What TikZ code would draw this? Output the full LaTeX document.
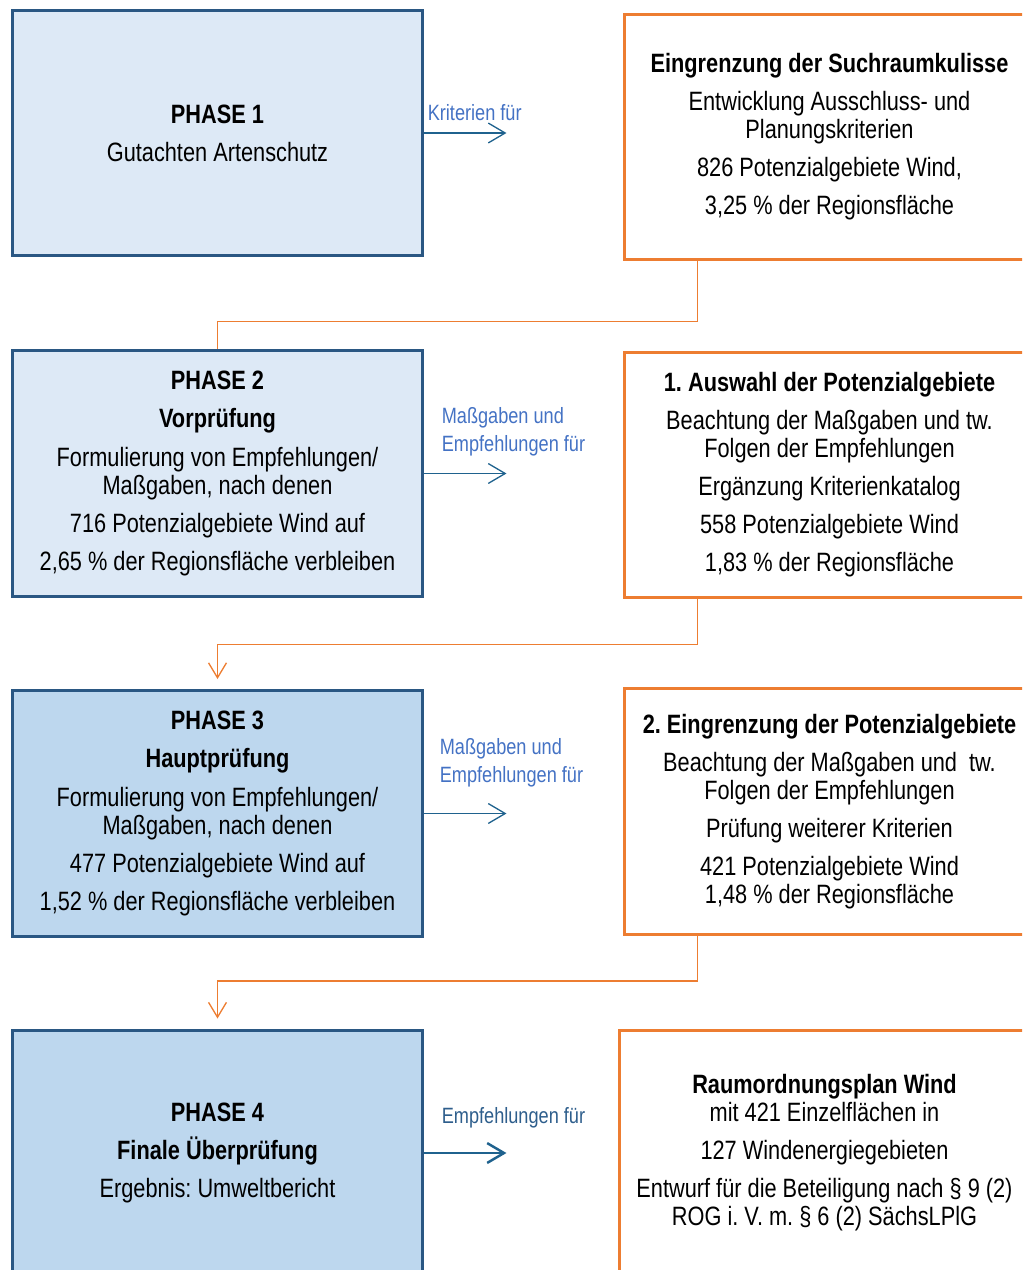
\documentclass[tikz,border=0pt]{standalone}
\usepackage{fontspec}
\setmainfont{Liberation Sans}[FakeStretch=0.82]
\usepackage{xcolor}
\usetikzlibrary{arrows.meta, positioning, calc}
\definecolor{phaselight}{HTML}{DDE9F6}
\definecolor{phasedark}{HTML}{BDD7EE}
\definecolor{phaseline}{HTML}{2A5783}
\definecolor{stepline}{HTML}{ED7D31}
\definecolor{flowline}{HTML}{1F628E}
\definecolor{taglight}{HTML}{4472C4}
\definecolor{tagdark}{HTML}{2E5E8C}
\newcommand{\pgap}{\\[5.7pt]}
\frenchspacing

\begin{document}
\begin{tikzpicture}[x=0.02cm, y=-0.02cm,
    every node/.style={font=\fontsize{15.1}{15.94}\selectfont},
    phase/.style={draw=phaseline, line width=1.7pt, minimum width=8.22cm,
      minimum height=4.92cm, align=center, inner sep=0pt},
    result/.style={draw=stepline, fill=white, line width=1.7pt, minimum width=8.22cm,
      minimum height=4.92cm, align=center, inner sep=0pt},
    tag/.style={font=\fontsize{12.6}{15.94}\selectfont, align=left,
      inner sep=0pt, anchor=west, text=taglight},
    flow/.style={draw=flowline, line width=0.75pt,
      -{Straight Barb[length=9.6pt, width=11.3pt]}},
    link/.style={draw=stepline, line width=0.75pt},
    linkarrow/.style={link, -{Straight Barb[length=8.5pt, width=10.2pt]}, shorten >=0.2cm}]

    \clip (0,0) rectangle (1022,1270);

    % phases
    \node[phase, fill=phaselight] (P1) at (217.5,133)
      {\textbf{PHASE 1}\pgap Gutachten Artenschutz};
    \node[phase, fill=phaselight] (P2) at (217.5,473.5)
      {\textbf{PHASE 2}\pgap \textbf{Vorprüfung}\pgap
       Formulierung von Empfehlungen/\\ Maßgaben, nach denen\pgap
       716 Potenzialgebiete Wind auf\pgap 2,65 \% der Regionsfläche verbleiben};
    \node[phase, fill=phasedark] (P3) at (217.5,813.5)
      {\textbf{PHASE 3}\pgap \textbf{Hauptprüfung}\pgap
       Formulierung von Empfehlungen/\\ Maßgaben, nach denen\pgap
       477 Potenzialgebiete Wind auf\pgap 1,52 \% der Regionsfläche verbleiben};
    \node[phase, fill=phasedark] (P4) at (217.5,1153)
      {\textbf{PHASE 4}\pgap \textbf{Finale Überprüfung}\pgap
       Ergebnis: Umweltbericht};

    % results
    \node[result] (R1) at (829.5,137)
      {\textbf{Eingrenzung der Suchraumkulisse}\pgap
       Entwicklung Ausschluss- und\\ Planungskriterien\pgap
       826 Potenzialgebiete Wind,\pgap 3,25 \% der Regionsfläche};
    \node[result] (R2) at (829.5,475)
      {\textbf{1. Auswahl der Potenzialgebiete}\pgap
       Beachtung der Maßgaben und tw.\\ Folgen der Empfehlungen\pgap
       Ergänzung Kriterienkatalog\pgap 558 Potenzialgebiete Wind\pgap
       1,83 \% der Regionsfläche};
    \node[result] (R3) at (829.5,811.5)
      {\textbf{2. Eingrenzung der Potenzialgebiete}\pgap
       Beachtung der Maßgaben und \ tw.\\ Folgen der Empfehlungen\pgap
       Prüfung weiterer Kriterien\pgap 421 Potenzialgebiete Wind\\
       1,48 \% der Regionsfläche};
    \node[result] (R4) at (824.5,1153)
      {\textbf{Raumordnungsplan Wind}\\ mit 421 Einzelflächen in\pgap
       127 Windenergiegebieten\pgap
       Entwurf für die Beteiligung nach § 9 (2)\\ ROG i. V. m. § 6 (2) SächsLPlG};

    % arrows phase -> result
    \draw[flow] (P1.east) -- ++(82,0) coordinate (k1);
    \node[tag] (t1) at ([shift={(3,-20)}]P1.east) {Kriterien für};
    \draw[flow] (P2.east) -- ++(82,0) coordinate (k2);
    \node[tag] (t2) at ([shift={(17,-41.5)}]P2.east) {Maßgaben und\\ Empfehlungen für};
    \draw[flow] (P3.east) -- ++(82,0) coordinate (k3);
    \node[tag] (t3) at ([shift={(15,-50.5)}]P3.east) {Maßgaben und\\ Empfehlungen für};
    \draw[flow, line width=1.4pt] (P4.east) -- ++(82,0) coordinate (k4);
    \node[tag, text=tagdark] (t4) at ([shift={(17,-35)}]P4.east) {Empfehlungen für};

    % result -> next phase
    \draw[link] ([xshift=1.5cm]R1.south west) -- ++(0,60) -| (P2.north);
    \draw[linkarrow] ([xshift=1.5cm]R2.south west) -- ++(0,45) -| (P3.north);
    \draw[linkarrow] ([xshift=1.5cm]R3.south west) -- ++(0,45) -| (P4.north);
\end{tikzpicture}
\end{document}
